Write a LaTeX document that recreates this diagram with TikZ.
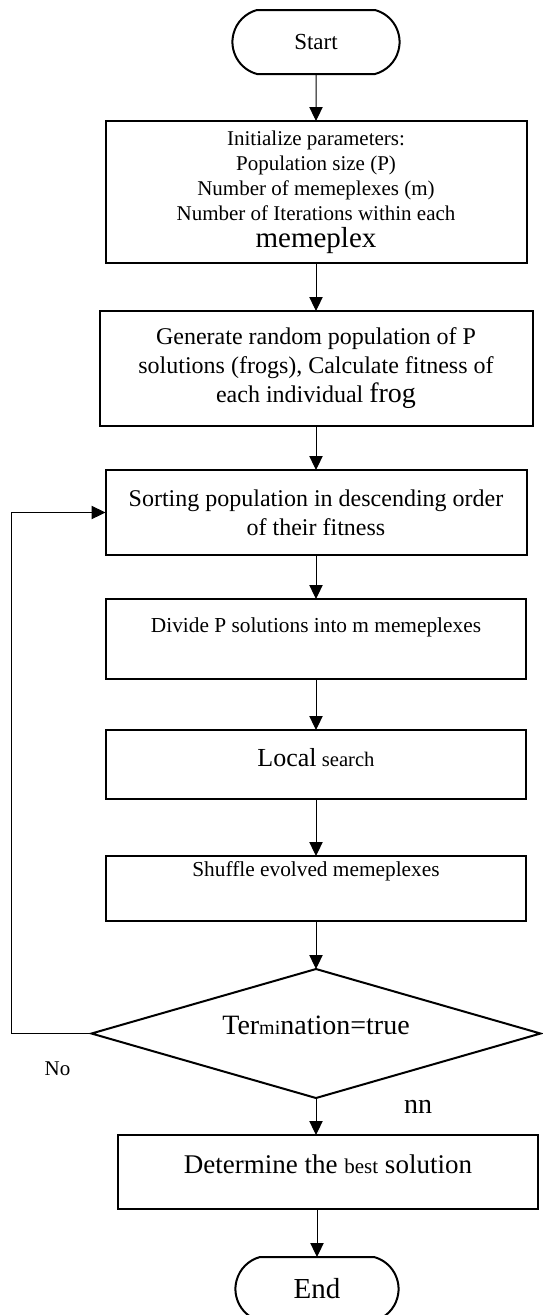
\documentclass[tikz,border=0pt]{standalone}
\usepackage{fontspec}
\setmainfont{Liberation Serif}
\usetikzlibrary{positioning,shapes.geometric,shapes.misc,arrows.meta}

\newcommand{\fs}[2]{\fontsize{#1}{#2}\selectfont}

\begin{document}
\begin{tikzpicture}[
    box/.style={rectangle, draw=black, line width=1.5pt, inner sep=2pt, outer sep=0pt, align=center},
    term/.style={rounded rectangle, rounded rectangle arc length=150, draw=black, line width=1.5pt, outer sep=0pt, minimum width=129pt, minimum height=48pt},
    decision/.style={diamond, draw=black, line width=1.5pt, aspect=3.5, inner sep=1pt, outer sep=0pt},
    arrow/.style={-{Triangle[length=10.5pt, width=10pt]}, line width=0.75pt},
    lbl/.style={inner sep=0pt},
    node distance=36pt
]

\useasboundingbox (0,0) rectangle (407.25pt,-986.25pt);

% Start and set-up
\node[term, minimum width=132pt, font=\fs{17.25}{20}] (start) at (237pt,-31.5pt) {Start};
\node[box, minimum width=315.75pt, minimum height=106.5pt, font=\fs{15.75}{18.75}, below=35.25pt of start] (init) {Initialize parameters:\\Population size (P)\\Number of memeplexes (m)\\Number of Iterations within each\\[1.5pt]{\fs{21.75}{24}memeplex}};
\node[box, minimum width=324.75pt, minimum height=86.25pt, font=\fs{18}{21.75}, below=36pt of init] (gen) {Generate random population of P\\solutions (frogs), Calculate fitness of\\each individual {\fs{21}{24}frog}};

% Main loop
\node[box, minimum width=315.75pt, minimum height=63.75pt, font=\fs{18}{21.75}, below=33pt of gen] (sort) {Sorting population in descending order\\of their fitness};
\node[box, minimum width=315pt, minimum height=60pt, font=\fs{16}{19}, text height=12pt, text depth=22.5pt, below=33pt of sort] (divide) {Divide P solutions into m memeplexes};
\node[box, minimum width=315pt, minimum height=51.75pt, font=\fs{15.5}{18}, text height=15pt, text depth=12pt, below=38.25pt of divide] (local) {{\fs{19.5}{22}Local} search};
\node[box, minimum width=315pt, minimum height=48.75pt, font=\fs{16}{19}, text height=12pt, text depth=30pt, below=42.75pt of local] (shuffle) {Shuffle evolved memeplexes};

% Termination test
\node[decision, minimum width=336.75pt, minimum height=96.75pt, font=\fs{21}{24}, text height=15pt, text depth=13pt, below=36pt of shuffle] (diam) {Ter{\fs{15}{18}mi}nation=true};

% Result and end
\node[box, minimum width=315pt, minimum height=55.5pt, font=\fs{20.25}{24}, text height=15pt, text depth=13.5pt, below=27.75pt of diam, xshift=9pt] (best) {Determine the {\fs{15.75}{18}best} solution};
\node[term, font=\fs{21.75}{24}, below=36pt of best, xshift=-8.25pt] (end) {End};

% Labels
\node[lbl, font=\fs{15.75}{18}] (nolbl) at ([xshift=-25.5pt, yshift=-26.25pt]diam.west) {No};
\node[lbl, font=\fs{21}{24}] (nnlbl) at ([xshift=76.5pt, yshift=-6.75pt]diam.south) {nn};

% Arrows
\draw[arrow] (start) -- (init);
\draw[arrow] (init) -- (gen);
\draw[arrow] (gen) -- (sort);
\draw[arrow] (sort) -- (divide);
\draw[arrow] (divide) -- (local);
\draw[arrow] (local) -- (shuffle);
\draw[arrow] (shuffle) -- (diam);
\draw[arrow] (diam.south) -- (diam.south |- best.north);
\draw[arrow] (end.north |- best.south) -- (end.north);

% Feedback loop
\coordinate (loopx) at (8.25pt,0);
\coordinate (loopc) at (diam.west -| loopx);
\draw[arrow] (diam.west) -- (loopc) |- (sort.west);

\end{tikzpicture}
\end{document}
